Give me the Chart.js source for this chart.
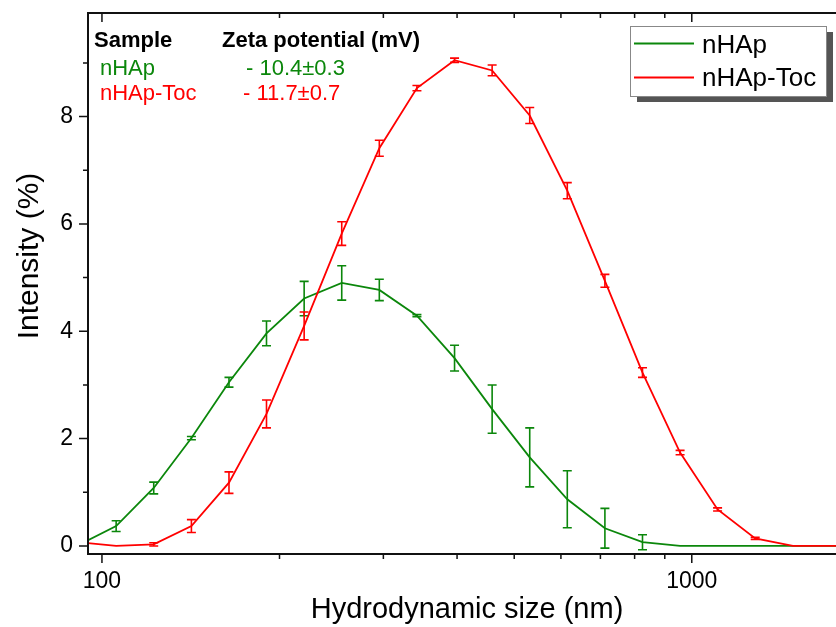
<!DOCTYPE html>
<html>
<head>
<meta charset="utf-8">
<title>DLS size distribution</title>
<script src="https://cdn.jsdelivr.net/npm/chart.js@4.4.1/dist/chart.umd.min.js"></script>
<style>
  html, body { margin: 0; padding: 0; background: #fff; }
  #wrap { width: 836px; height: 627px; position: relative; }
</style>
</head>
<body>
<div id="wrap"><canvas id="myChart"></canvas></div>
<script>
// hydrodynamic size bins (nm)
const sizes = [91.28, 105.7, 122.4, 141.8, 164.2, 190.1, 220.2, 255.0, 295.3, 342.0, 396.1,
  458.7, 531.2, 615.1, 712.4, 825.0, 955.4, 1106, 1281, 1484, 1718, 1990];

// intensity (%) and error for each sample
const nhapValues = [0.02, 0.37, 1.08, 2.01, 3.05, 3.96, 4.61, 4.90, 4.77, 4.29, 3.50,
  2.55, 1.65, 0.87, 0.33, 0.07, 0, 0, 0, 0, 0, 0];
const nhapErrors = [0, 0.10, 0.11, 0.03, 0.09, 0.23, 0.32, 0.32, 0.20, 0.02, 0.24,
  0.45, 0.55, 0.53, 0.37, 0.14, 0, 0, 0, 0, 0, 0];
const tocValues = [0.07, 0.0, 0.03, 0.37, 1.18, 2.46, 4.10, 5.82, 7.41, 8.53, 9.05,
  8.86, 8.02, 6.62, 4.94, 3.23, 1.74, 0.68, 0.14, 0, 0, 0];
const tocErrors = [0, 0, 0.03, 0.12, 0.20, 0.26, 0.26, 0.22, 0.15, 0.05, 0.04,
  0.10, 0.15, 0.15, 0.12, 0.09, 0.04, 0.03, 0.02, 0, 0, 0];

const seriesNames = ['nHAp', 'nHAp-Toc'];
const zetaValues = ['- 10.4\u00b10.3', '- 11.7\u00b10.7'];

const xMajorTicks = [100, 1000];
const xMinorTicks = [200, 300, 400, 500, 600, 700, 800, 900];
const yMajorTicks = [0, 2, 4, 6, 8];
const yMinorTicks = [1, 3, 5, 7, 9];

const GREEN = '#0b870b';
const RED = '#ff0000';
const FONT = "'Liberation Sans', Arial, sans-serif";

const errorSets = [nhapErrors, tocErrors];
const valueSets = [nhapValues, tocValues];

function toPoints(vals) {
  return sizes.map((s, i) => ({ x: s, y: vals[i] }));
}

// error bars, axes frame, ticks, annotation table and legend box
const decor = {
  id: 'decor',
  afterDatasetDraw(chart, args) {
    const xs = chart.scales.x, ys = chart.scales.y, a = chart.chartArea;
    const ctx = chart.ctx;
    const errs = errorSets[args.index], vals = valueSets[args.index];
    ctx.save();
    ctx.beginPath();
    ctx.rect(a.left, a.top, a.right - a.left, a.bottom - a.top);
    ctx.clip();
    ctx.strokeStyle = chart.data.datasets[args.index].borderColor;
    ctx.lineWidth = 1.6;
    for (let i = 0; i < sizes.length; i++) {
      if (!errs[i]) continue;
      const x = xs.getPixelForValue(sizes[i]);
      const y1 = ys.getPixelForValue(vals[i] + errs[i]);
      const y2 = ys.getPixelForValue(vals[i] - errs[i]);
      ctx.beginPath();
      ctx.moveTo(x, y1); ctx.lineTo(x, y2);
      ctx.moveTo(x - 4.5, y1); ctx.lineTo(x + 4.5, y1);
      ctx.moveTo(x - 4.5, y2); ctx.lineTo(x + 4.5, y2);
      ctx.stroke();
    }
    ctx.restore();
  },
  afterDraw(chart) {
    const xs = chart.scales.x, ys = chart.scales.y, a = chart.chartArea;
    const ctx = chart.ctx;
    ctx.save();
    ctx.strokeStyle = '#111';
    ctx.lineWidth = 2;
    ctx.beginPath();
    ctx.moveTo(a.right, a.top); ctx.lineTo(a.left, a.top);
    ctx.lineTo(a.left, a.bottom); ctx.lineTo(a.right, a.bottom);
    ctx.stroke();

    ctx.lineWidth = 1.5;
    ctx.beginPath();
    yMajorTicks.concat(yMinorTicks).forEach(v => {
      const y = ys.getPixelForValue(v);
      const len = yMajorTicks.includes(v) ? 9 : 5;
      ctx.moveTo(a.left - len, y); ctx.lineTo(a.left, y);
    });
    xMajorTicks.concat(xMinorTicks).forEach(v => {
      const x = xs.getPixelForValue(v);
      const len = xMajorTicks.includes(v) ? 9 : 5;
      ctx.moveTo(x, a.bottom); ctx.lineTo(x, a.bottom + len);
      ctx.moveTo(x, a.top); ctx.lineTo(x, a.top + len);
    });
    ctx.stroke();

    // axis titles
    ctx.fillStyle = '#000';
    ctx.font = '29px ' + FONT;
    ctx.textAlign = 'center';
    ctx.textBaseline = 'alphabetic';
    ctx.fillText('Hydrodynamic size (nm)', 467, 618);
    ctx.save();
    ctx.translate(38, 256);
    ctx.rotate(-Math.PI / 2);
    ctx.font = '30px ' + FONT;
    ctx.fillText('Intensity (%)', 0, 0);
    ctx.restore();

    // zeta potential table
    ctx.textAlign = 'left';
    ctx.font = 'bold 22px ' + FONT;
    ctx.fillText('Sample', 94, 47);
    ctx.fillText('Zeta potential (mV)', 222, 47);
    ctx.font = '22px ' + FONT;
    ctx.fillStyle = GREEN;
    ctx.fillText(seriesNames[0], 100, 75);
    ctx.fillText(zetaValues[0], 246, 75);
    ctx.fillStyle = RED;
    ctx.fillText(seriesNames[1], 100, 100);
    ctx.fillText(zetaValues[1], 243, 100);

    // legend box with shadow
    ctx.fillStyle = '#555';
    ctx.fillRect(637, 32, 196, 70);
    ctx.fillStyle = '#fff';
    ctx.fillRect(630, 26, 196, 70);
    ctx.strokeStyle = '#888';
    ctx.lineWidth = 1;
    ctx.strokeRect(630.5, 26.5, 196, 70);
    ctx.lineWidth = 2;
    [GREEN, RED].forEach((c, i) => {
      const y = i === 0 ? 43.5 : 77.5;
      ctx.strokeStyle = c;
      ctx.beginPath();
      ctx.moveTo(634, y); ctx.lineTo(694, y);
      ctx.stroke();
    });
    ctx.fillStyle = '#000';
    ctx.font = '26px ' + FONT;
    ctx.fillText(seriesNames[0], 702, 53);
    ctx.fillText(seriesNames[1], 702, 86);
    ctx.restore();
  }
};

const chart = new Chart(document.getElementById('myChart'), {
  type: 'scatter',
  data: {
    datasets: [
      { label: seriesNames[0], data: toPoints(nhapValues), borderColor: GREEN, showLine: true,
        borderWidth: 1.8, pointRadius: 0, order: 1 },
      { label: seriesNames[1], data: toPoints(tocValues), borderColor: RED, showLine: true,
        borderWidth: 1.8, pointRadius: 0, order: 0 }
    ]
  },
  options: {
    responsive: true,
    maintainAspectRatio: false,
    animation: false,
    layout: { padding: { top: 13, right: 0, left: 0, bottom: 0 } },
    plugins: { legend: { display: false }, tooltip: { enabled: false } },
    scales: {
      x: {
        type: 'logarithmic',
        min: 94.7,
        max: 1756,
        border: { display: false },
        grid: { display: false, drawTicks: true, tickLength: 9 },
        ticks: { color: '#000', font: { family: FONT, size: 23 }, padding: 5,
          maxRotation: 0, autoSkip: false, callback: v => String(v) },
        afterBuildTicks: s => { s.ticks = xMajorTicks.map(v => ({ value: v })); },
        afterFit: s => { s.height = 73; s.paddingLeft = 0; s.paddingRight = 0; }
      },
      y: {
        min: -0.15,
        max: 9.93,
        border: { display: false },
        grid: { display: false, drawTicks: true, tickLength: 9 },
        ticks: { color: '#000', font: { family: FONT, size: 23 }, padding: 6,
          callback: v => String(v) },
        afterBuildTicks: s => { s.ticks = yMajorTicks.map(v => ({ value: v })); },
        afterFit: s => { s.width = 88; s.paddingTop = 0; s.paddingBottom = 0; }
      }
    }
  },
  plugins: [decor]
});
</script>
</body>
</html>
